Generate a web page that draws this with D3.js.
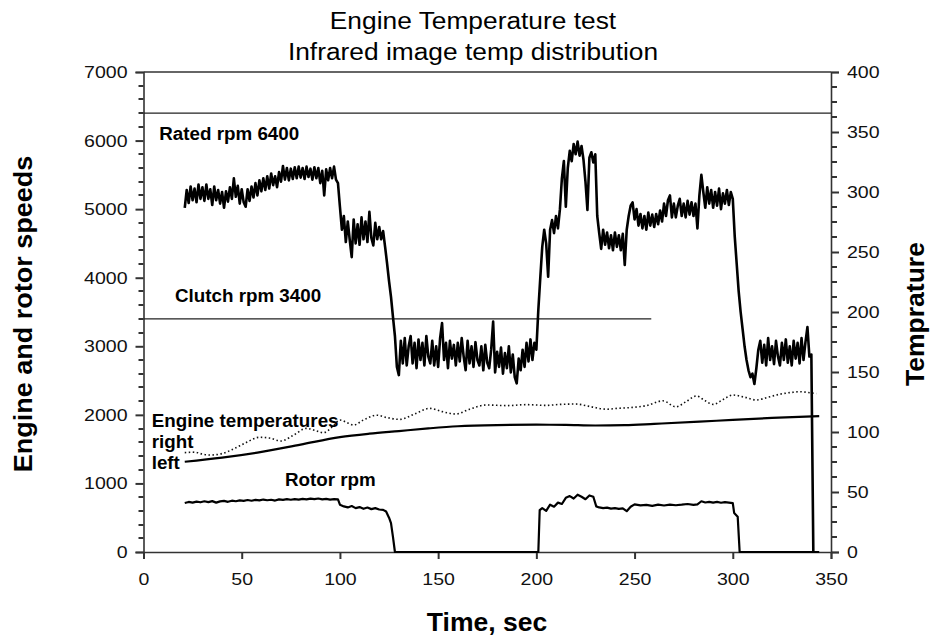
<!DOCTYPE html>
<html>
<head>
<meta charset="utf-8">
<script src="https://cdn.jsdelivr.net/npm/d3@7"></script>
<style>
  body { margin: 0; background: #fff; }
  #chart { margin: 0; }
  svg { display: block; font-family: Arial, "Liberation Sans", sans-serif; }
</style>
</head>
<body>
<figure id="chart"></figure>
<script>
// axis ticks
const timeTicks = [0, 50, 100, 150, 200, 250, 300, 350];
const speedTicks = [0, 1000, 2000, 3000, 4000, 5000, 6000, 7000];
const tempTicks = [0, 50, 100, 150, 200, 250, 300, 350, 400];
const speedMinorStep = 200;
const tempMinorStep = 12.5;

// reference speeds
const ratedRpm = 6400;
const clutchRpm = 3400;
const clutchLineEnd = 258.5;

// engine rpm, one reading per second starting at t = 21 s
const engineStart = 21;
const engineRpm = [
  5020, 5280, 5090, 5330, 5130, 5300, 5100, 5360, 5150, 5320,
  5120, 5360, 5150, 5290, 5060, 5330, 5130, 5280, 5080, 5250,
  5020, 5260, 5110, 5320, 5150, 5450, 5180, 5340, 5080, 5290,
  5100, 5035, 5290, 5120, 5330, 5170, 5380, 5200, 5420, 5260,
  5450, 5280, 5480, 5300, 5520, 5350, 5480, 5320, 5540, 5400,
  5630, 5430, 5600, 5420, 5590, 5440, 5610, 5450, 5620, 5460,
  5600, 5440, 5620, 5470, 5590, 5430, 5610, 5450, 5600, 5380,
  5560, 5200, 5580, 5420, 5600, 5450, 5620, 5430, 5380, 5035,
  4700, 4900, 4520, 4820, 4550, 4300, 4850, 4500, 4780, 4480,
  4880, 4560, 4820, 4520, 4960, 4580, 4470, 4800, 4560, 4740,
  4560, 4680, 4450, 4210, 3950, 3720, 3430, 3150, 2700, 2580,
  3080, 2750, 3120, 2720, 3000, 3150, 2750, 3050, 2680, 3100,
  2800, 3050, 2720, 3150, 2850, 2750, 3080, 2720, 3000, 2700,
  3120, 3340, 2800, 3050, 2680, 3080, 2820, 3020, 2720, 3050,
  2780, 3120, 2850, 2650, 3080, 2750, 3000, 2700, 3060, 2800,
  2720, 3000, 2650, 3020, 2760, 2680, 2950, 3360, 2620, 2920,
  2700, 2980, 2600, 2900, 2680, 3000, 2620, 2880, 2550, 2460,
  2820, 2650, 2950, 2700, 3050, 2780, 3100, 2800, 3050, 2950,
  3530, 4000, 4450, 4700, 4500, 4015, 4700, 4840, 4650, 4900,
  4720, 5000, 5450, 5700, 5035, 5600, 5850, 5700, 5950, 5800,
  5985, 5780, 5920, 5720, 5400, 4990, 5750, 5830, 5680, 5800,
  4900, 4650, 4420, 4700, 4480, 4660, 4430, 4620, 4400, 4660,
  4450, 4620, 4400, 4640, 4185, 4700, 4900, 5050, 5100, 4850,
  5000, 4760, 4930, 4720, 4900, 4700, 4950, 4760, 4920, 4740,
  4930, 4780, 4980, 4820, 5080, 4900, 5130, 5200, 4880, 5080,
  4880, 5050, 5150, 4900, 5080, 4880, 5120, 4920, 5100, 4900,
  5080, 4720, 5200, 5500, 5250, 5020, 5320, 5080, 5280, 5020,
  5250, 5050, 5300, 5000, 5230, 5080, 5280, 5060, 5250, 5150,
  4600, 4200, 3800, 3500, 3250, 3000, 2800, 2650, 2550, 2600,
  2450, 2680, 2950, 3080, 2760, 3020, 2720, 3120, 2800, 3000,
  2740, 3080, 2850, 2720, 3050, 2800, 3100, 2760, 3000, 2720,
  3080, 2820, 3050, 2750, 3120, 2800, 3060, 3280, 2850, 2880,
  0
];

// rotor rpm [time, rpm]
const rotorRpm = [
  [21, 715], [23, 730], [25, 720], [27, 735], [29, 725], [31, 740], [33, 728], [35, 742],
  [37, 720], [39, 738], [41, 745], [43, 732], [45, 748], [47, 740], [49, 752], [51, 745],
  [53, 758], [55, 748], [57, 760], [59, 752], [61, 765], [63, 755], [65, 762], [67, 750],
  [69, 768], [71, 760], [73, 770], [75, 762], [77, 772], [79, 765], [81, 775], [83, 768],
  [85, 778], [87, 770], [89, 780], [91, 768], [93, 775], [95, 765], [97, 772], [99, 768],
  [100, 690], [102, 665], [104, 650], [106, 670], [108, 640], [110, 655], [112, 630],
  [114, 648], [116, 625], [118, 640], [120, 620], [122, 615], [123.5, 590], [125, 500],
  [126, 420], [127, 220], [128, 0], [201, 0], [201.7, 610], [203, 640], [205, 600],
  [207, 690], [209, 660], [211, 720], [213, 700], [215, 790], [217, 815], [219, 780],
  [221, 835], [223, 805], [225, 770], [227, 825], [229, 805], [230.5, 665], [232, 650],
  [234, 640], [236, 648], [238, 632], [240, 640], [242, 628], [244, 635], [246, 595],
  [248, 660], [250, 695], [253, 680], [256, 688], [259, 672], [262, 690], [265, 678],
  [268, 692], [271, 682], [274, 690], [277, 700], [280, 688], [282, 695], [284, 740],
  [286, 722], [288, 732], [290, 720], [292, 730], [294, 718], [296, 728], [298, 720],
  [300, 712], [300.7, 570], [302.5, 515], [303.5, 0], [344, 0]
];

// engine temperatures (right axis) [time, temp]
const tempLeft = [
  [21, 75.2], [40, 78.6], [58, 82.8], [80, 89.5], [100, 95.7], [115, 98.6], [130, 100.8],
  [145, 103], [160, 104.8], [180, 105.8], [200, 106.1], [215, 105.9], [230, 105.4],
  [245, 105.7], [260, 106.8], [283, 108.6], [300, 110.1], [320, 111.7], [344, 113.3]
];
const tempRight = [
  [21, 82.8], [26, 83.2], [30, 81.6], [34, 80.8], [40, 82], [46, 86], [52, 91], [59, 95.6],
  [64, 95], [70, 92.5], [76, 97], [83, 103], [88, 101], [91.5, 99.4], [96, 104], [100, 110],
  [104, 107.5], [107, 105.8], [112, 110], [118.6, 114], [124, 112], [130.5, 110.5], [138, 115],
  [145.7, 119.7], [152, 117], [159, 115], [166, 119], [174.6, 122.5], [185, 122], [195, 122.8],
  [205, 122.2], [212, 123], [220, 123.3], [228, 121], [235.6, 119], [242, 119.8], [249, 120.5],
  [256, 122], [264.4, 126], [271, 121], [276, 125], [281.4, 130], [286, 126], [290, 123],
  [295, 127], [300, 130.8], [306, 129], [312, 126.7], [318, 129], [324, 131.5], [330, 133],
  [334, 133.6], [338, 133], [342.5, 132]
];

const width = 931, height = 637;
const plot = {left: 143.5, right: 831, top: 72, bottom: 552};
const axisColor = "#333";
const tickColor = "#333";

const svg = d3.select("figure#chart")
  .append("svg")
  .attr("width", width)
  .attr("height", height);

const x = d3.scaleLinear().domain([0, 350]).range([plot.left, plot.right]);
const ySpeed = d3.scaleLinear().domain([0, 7000]).range([plot.bottom, plot.top]);
const yTemp = d3.scaleLinear().domain([0, 400]).range([plot.bottom, plot.top]);

// text that is a little wider than plain Arial
function label(text, px, py, size, weight, sx, anchor, rotate) {
  return svg.append("text")
    .attr("transform", `translate(${px},${py})` + (rotate ? ` rotate(${rotate})` : "") + ` scale(${sx},1)`)
    .attr("text-anchor", anchor || "start")
    .attr("font-size", size)
    .attr("font-weight", weight)
    .attr("fill", "#000")
    .text(text);
}

// titles
label("Engine Temperature test", 473, 28.5, 23.3, "normal", 1.13, "middle");
label("Infrared image temp distribution", 473, 59.5, 23.3, "normal", 1.13, "middle");
label("Engine and rotor speeds", 32, 314, 26.5, "bold", 1.02, "middle", -90);
label("Temprature", 924, 314, 26.5, "bold", 1.0, "middle", -90);
label("Time, sec", 487, 631, 26.5, "bold", 1.0, "middle");

const tickSx = 1.15;
function styleAxis(g) {
  g.select(".domain").attr("stroke", axisColor).attr("stroke-width", 1.6);
  g.selectAll(".tick line").attr("stroke", tickColor).attr("stroke-width", 2);
  g.selectAll("text").attr("font-size", 17).attr("fill", "#111").attr("font-family", null);
}

// minor ticks, snapped to the pixel grid so they stay visible
const speedMinor = d3.range(0, 7000 + 1, speedMinorStep).filter(v => !speedTicks.includes(v));
const tempMinor = d3.range(0, 400 + 1, tempMinorStep).filter(v => !tempTicks.includes(v));

svg.append("g").selectAll("line")
  .data(speedMinor)
  .join("line")
  .attr("x1", plot.left - 5).attr("x2", plot.left)
  .attr("y1", d => Math.round(ySpeed(d))).attr("y2", d => Math.round(ySpeed(d)))
  .attr("stroke", tickColor).attr("stroke-width", 2);

svg.append("g").selectAll("line")
  .data(tempMinor)
  .join("line")
  .attr("x1", plot.right).attr("x2", plot.right + 6)
  .attr("y1", d => Math.round(yTemp(d))).attr("y2", d => Math.round(yTemp(d)))
  .attr("stroke", tickColor).attr("stroke-width", 2);

// left axis
svg.append("g")
  .attr("transform", `translate(${plot.left},0)`)
  .call(d3.axisLeft(ySpeed).tickValues(speedTicks).tickSize(8).tickPadding(8).tickFormat(d3.format("d")))
  .call(styleAxis)
  .call(g => g.selectAll("text").attr("x", -16 / tickSx).attr("transform", `scale(${tickSx},1)`));

// right axis
svg.append("g")
  .attr("transform", `translate(${plot.right},0)`)
  .call(d3.axisRight(yTemp).tickValues(tempTicks).tickSize(8).tickPadding(8).tickFormat(d3.format("d")))
  .call(styleAxis)
  .call(g => g.selectAll("text").attr("x", 16 / tickSx).attr("transform", `scale(${tickSx},1)`));

// bottom axis
svg.append("g")
  .attr("transform", `translate(0,${plot.bottom})`)
  .call(d3.axisBottom(x).tickValues(timeTicks).tickSize(7).tickPadding(14).tickFormat(d3.format("d")))
  .call(styleAxis)
  .call(g => g.selectAll("text").attr("transform", `scale(${tickSx},1)`));

// top frame line
svg.append("line")
  .attr("x1", plot.left).attr("x2", plot.right)
  .attr("y1", ySpeed(7000)).attr("y2", ySpeed(7000))
  .attr("stroke", axisColor).attr("stroke-width", 1.4);

// reference rpm lines
svg.append("line")
  .attr("x1", x(0)).attr("x2", x(350))
  .attr("y1", ySpeed(ratedRpm)).attr("y2", ySpeed(ratedRpm))
  .attr("stroke", "#222").attr("stroke-width", 1.3);
svg.append("line")
  .attr("x1", x(0)).attr("x2", x(clutchLineEnd))
  .attr("y1", ySpeed(clutchRpm)).attr("y2", ySpeed(clutchRpm))
  .attr("stroke", "#222").attr("stroke-width", 1.3);

// temperatures
svg.append("path")
  .datum(tempRight)
  .attr("fill", "none")
  .attr("stroke", "#111")
  .attr("stroke-width", 1.6)
  .attr("stroke-dasharray", "1.5,2.5")
  .attr("d", d3.line().x(d => x(d[0])).y(d => yTemp(d[1])).curve(d3.curveMonotoneX));

svg.append("path")
  .datum(tempLeft)
  .attr("fill", "none")
  .attr("stroke", "#000")
  .attr("stroke-width", 2.2)
  .attr("d", d3.line().x(d => x(d[0])).y(d => yTemp(d[1])).curve(d3.curveMonotoneX));

// rotor rpm
svg.append("path")
  .datum(rotorRpm)
  .attr("fill", "none")
  .attr("stroke", "#000")
  .attr("stroke-width", 2.2)
  .attr("stroke-linejoin", "round")
  .attr("d", d3.line().x(d => x(d[0])).y(d => ySpeed(d[1])));

// engine rpm
svg.append("path")
  .datum(engineRpm)
  .attr("fill", "none")
  .attr("stroke", "#000")
  .attr("stroke-width", 2.6)
  .attr("stroke-linejoin", "round")
  .attr("d", d3.line().x((d, i) => x(engineStart + i)).y(d => ySpeed(d)));

// in-plot labels
label("Rated rpm 6400", 159.3, 140, 18.8, "bold", 1, "start");
label("Clutch rpm 3400", 175, 301.7, 18.8, "bold", 1, "start");
label("Engine temperatures", 151.7, 426.7, 18.8, "bold", 1, "start");
label("right", 151.7, 447.5, 18.8, "bold", 1, "start");
label("left", 151.7, 469.3, 18.8, "bold", 1, "start");
label("Rotor rpm", 285, 486, 18.8, "bold", 1, "start");
</script>
</body>
</html>
